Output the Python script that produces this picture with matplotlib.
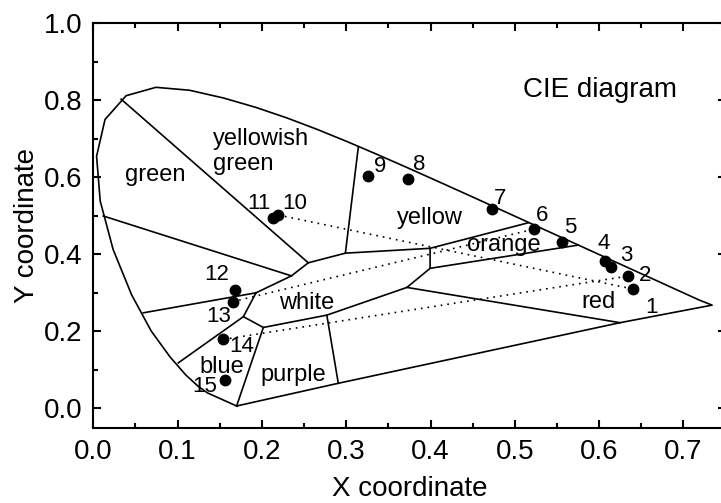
import matplotlib
matplotlib.use('Agg')
import matplotlib.pyplot as plt
from matplotlib.ticker import MultipleLocator

plt.rcParams['font.family'] = ['Liberation Sans', 'DejaVu Sans']

# spectral locus (closed by the line of purples)
locus_x = [0.1700, 0.1355, 0.1241, 0.1096, 0.0913, 0.0687, 0.0454, 0.0235, 0.0082, 0.0039,
           0.0139, 0.0389, 0.0743, 0.1142, 0.1547, 0.1929, 0.2296, 0.2658, 0.3016, 0.3373,
           0.3731, 0.4087, 0.4441, 0.4788, 0.5125, 0.5448, 0.5752, 0.6029, 0.6270, 0.6482,
           0.6658, 0.6915, 0.7079, 0.7190, 0.7340, 0.6248, 0.2906, 0.1700]
locus_y = [0.0060, 0.0399, 0.0578, 0.0868, 0.1327, 0.2007, 0.2950, 0.4127, 0.5384, 0.6548,
           0.7502, 0.8120, 0.8338, 0.8262, 0.8059, 0.7816, 0.7543, 0.7243, 0.6923, 0.6589,
           0.6245, 0.5896, 0.5547, 0.5202, 0.4866, 0.4544, 0.4242, 0.3965, 0.3725, 0.3514,
           0.3340, 0.3083, 0.2920, 0.2809, 0.2680, 0.2224, 0.0650, 0.0060]

# white region
white_x = [0.193, 0.235, 0.255, 0.299, 0.3995, 0.3995, 0.372, 0.277, 0.2017, 0.178, 0.193]
white_y = [0.300, 0.344, 0.378, 0.403, 0.4156, 0.3636, 0.314, 0.242, 0.210, 0.238, 0.300]

# other boundaries (x0, y0, x1, y1)
borders = [
    (0.033, 0.803, 0.255, 0.378),
    (0.0119, 0.4995, 0.235, 0.344),
    (0.0593, 0.248, 0.193, 0.300),
    (0.1008, 0.118, 0.178, 0.238),
    (0.1700, 0.0060, 0.2017, 0.210),
    (0.2906, 0.065, 0.277, 0.242),
    (0.3144, 0.6795, 0.299, 0.403),
    (0.3995, 0.4156, 0.516, 0.482),
    (0.3995, 0.3636, 0.5753, 0.424),
    (0.372, 0.314, 0.6248, 0.2224),
]

# measured points
pt_id = ['1', '2', '3', '4', '5', '6', '7', '8', '9', '10', '11', '12', '13', '14', '15']
pt_x = [0.6398, 0.6347, 0.6137, 0.607, 0.5563, 0.5232, 0.4726, 0.373, 0.3262, 0.2195,
        0.2135, 0.168, 0.1653, 0.1542, 0.1562]
pt_y = [0.310, 0.3436, 0.3678, 0.3826, 0.431, 0.4657, 0.5177, 0.5948, 0.6034, 0.502,
        0.4935, 0.307, 0.277, 0.179, 0.0735]
lab_x = [0.662, 0.655, 0.632, 0.6058, 0.5655, 0.532, 0.4825, 0.3864, 0.340, 0.2393,
         0.197, 0.1464, 0.1483, 0.176, 0.1325]
lab_y = [0.263, 0.346, 0.398, 0.4286, 0.470, 0.502, 0.5455, 0.6345, 0.6275, 0.5325,
         0.533, 0.348, 0.238, 0.160, 0.056]

# dotted links between points
links = [('10', '1'), ('14', '2'), ('13', '6')]

regions = ['green', 'yellowish\ngreen', 'yellow', 'orange', 'red', 'white', 'blue', 'purple']
reg_x = [0.0732, 0.142, 0.3994, 0.4864, 0.599, 0.253, 0.152, 0.237]
reg_y = [0.606, 0.6665, 0.4935, 0.424, 0.277, 0.2727, 0.108, 0.0865]

fig = plt.figure(figsize=(7.21, 5.03), dpi=100)
ax = fig.add_axes([0.1294, 0.150, 0.8770, 0.8036])

ax.plot(locus_x, locus_y, color='black', lw=1.2)
ax.plot(white_x, white_y, color='black', lw=1.2)
for x0, y0, x1, y1 in borders:
    ax.plot([x0, x1], [y0, y1], color='black', lw=1.2)

for a, b in links:
    i, j = pt_id.index(a), pt_id.index(b)
    ax.plot([pt_x[i], pt_x[j]], [pt_y[i], pt_y[j]], color='black', lw=1.2,
            linestyle=(0, (1, 3)))

ax.plot(pt_x, pt_y, 'o', color='black', ms=7.5)
for t, x, y in zip(pt_id, lab_x, lab_y):
    ax.text(x, y, t, fontsize=16, ha='center', va='center')

for t, x, y in zip(regions, reg_x, reg_y):
    if '\n' in t:
        ax.text(x, y, t, fontsize=17, ha='left', va='center')
    else:
        ax.text(x, y, t, fontsize=17, ha='center', va='center')

ax.text(0.601, 0.827, 'CIE diagram', fontsize=20, ha='center', va='center')

ax.set_xlim(0, 0.75)
ax.set_ylim(-0.05, 1.0)
ax.xaxis.set_major_locator(MultipleLocator(0.1))
ax.xaxis.set_minor_locator(MultipleLocator(0.05))
ax.yaxis.set_major_locator(MultipleLocator(0.2))
ax.yaxis.set_minor_locator(MultipleLocator(0.1))
ax.xaxis.set_major_formatter(plt.FormatStrFormatter('%.1f'))
ax.yaxis.set_major_formatter(plt.FormatStrFormatter('%.1f'))
ax.tick_params(which='both', direction='in', top=True, right=True, width=1.5)
ax.tick_params(which='major', length=6, labelsize=20, pad=8)
ax.tick_params(which='minor', length=3.5)
for s in ax.spines.values():
    s.set_linewidth(1.5)

ax.set_xlabel('X coordinate', fontsize=20)
ax.set_ylabel('Y coordinate', fontsize=20)
ax.xaxis.set_label_coords(0.5, -0.121)
ax.yaxis.set_label_coords(-0.085, 0.5)

fig.savefig('out.png', dpi=100)
